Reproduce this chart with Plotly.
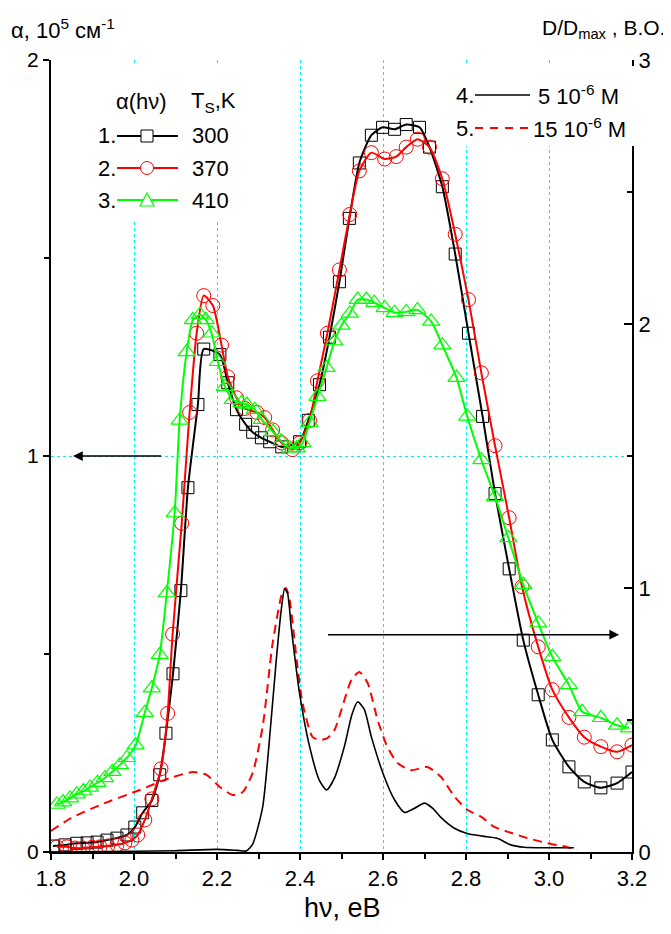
import plotly.graph_objects as go

# ---------------- data ----------------
# curve 1: alpha(hv), Ts = 300 K (black, squares)
e1 = [1.805, 1.834, 1.862, 1.887, 1.911, 1.935, 1.959, 1.983, 2.002, 2.021, 2.043, 2.062, 2.077, 2.094,
      2.113, 2.13, 2.154, 2.168, 2.207, 2.226, 2.247, 2.269, 2.286, 2.307, 2.327, 2.356, 2.399, 2.42,
      2.447, 2.471, 2.495, 2.519, 2.543, 2.572, 2.599, 2.628, 2.656, 2.688, 2.712, 2.743, 2.774, 2.806,
      2.84, 2.87, 2.904, 2.938, 2.974, 3.008, 3.048, 3.085, 3.125, 3.164, 3.2]
a1 = [0.015, 0.018, 0.022, 0.023, 0.025, 0.030, 0.035, 0.043, 0.063, 0.099, 0.13, 0.195, 0.30, 0.45,
      0.66, 0.92, 1.13, 1.27, 1.256, 1.185, 1.117, 1.08, 1.06, 1.046, 1.036, 1.023, 1.036, 1.09,
      1.18, 1.30, 1.44, 1.60, 1.74, 1.81, 1.83, 1.825, 1.837, 1.83, 1.78, 1.68, 1.51, 1.31,
      1.10, 0.905, 0.715, 0.535, 0.397, 0.283, 0.215, 0.177, 0.162, 0.174, 0.202]

# curve 2: Ts = 370 K (red, circles)
e2 = [1.814, 1.838, 1.858, 1.877, 1.899, 1.918, 1.937, 1.959, 1.978, 1.995, 2.009, 2.026, 2.043, 2.065,
      2.081, 2.093, 2.115, 2.134, 2.151, 2.168, 2.19, 2.211, 2.226, 2.247, 2.267, 2.296, 2.315, 2.334,
      2.356, 2.382, 2.399, 2.423, 2.442, 2.466, 2.495, 2.52, 2.543, 2.572, 2.604, 2.632, 2.656, 2.683,
      2.712, 2.743, 2.774, 2.806, 2.837, 2.87, 2.904, 2.935, 2.974, 3.008, 3.048, 3.085, 3.125, 3.164, 3.2]
a2 = [0.013, 0.013, 0.010, 0.010, 0.012, 0.013, 0.015, 0.018, 0.023, 0.030, 0.043, 0.081, 0.134, 0.21,
      0.35, 0.55, 0.83, 1.11, 1.31, 1.405, 1.38, 1.28, 1.20, 1.147, 1.12, 1.11, 1.097, 1.066,
      1.033, 1.016, 1.033, 1.09, 1.19, 1.31, 1.47, 1.61, 1.72, 1.766, 1.75, 1.756, 1.78, 1.80,
      1.78, 1.70, 1.56, 1.395, 1.21, 1.026, 0.844, 0.67, 0.518, 0.41, 0.34, 0.29, 0.266, 0.253, 0.27]

# curve 3: Ts = 410 K (green, triangles)
e3 = [1.814, 1.829, 1.846, 1.862, 1.878, 1.894, 1.912, 1.930, 1.948, 1.966, 1.983, 2.004, 2.026, 2.043,
      2.062, 2.079, 2.098, 2.11, 2.127, 2.142, 2.159, 2.173, 2.187, 2.202, 2.219, 2.238, 2.259, 2.272,
      2.291, 2.308, 2.335, 2.356, 2.375, 2.392, 2.406, 2.423, 2.442, 2.464, 2.483, 2.50, 2.52, 2.539,
      2.56, 2.579, 2.604, 2.628, 2.656, 2.683, 2.716, 2.743, 2.777, 2.803, 2.837, 2.87, 2.902, 2.938,
      2.974, 3.008, 3.048, 3.08, 3.125, 3.164, 3.193]
a3 = [0.12, 0.126, 0.136, 0.146, 0.154, 0.163, 0.175, 0.187, 0.203, 0.220, 0.238, 0.27, 0.352, 0.414,
      0.498, 0.654, 0.856, 1.09, 1.263, 1.344, 1.357, 1.344, 1.31, 1.238, 1.175, 1.142, 1.134, 1.13,
      1.117, 1.092, 1.061, 1.036, 1.02, 1.02, 1.033, 1.084, 1.15, 1.223, 1.29, 1.33, 1.36, 1.395,
      1.395, 1.387, 1.374, 1.362, 1.364, 1.369, 1.34, 1.28, 1.198, 1.10, 0.99, 0.897, 0.793, 0.675,
      0.578, 0.493, 0.422, 0.354, 0.339, 0.32, 0.313]

# curve 4: D/Dmax, 5e-6 M (black solid, right axis)
e4 = [1.80, 2.0, 2.1, 2.2, 2.25, 2.271, 2.286, 2.31, 2.331, 2.343, 2.355, 2.363, 2.37, 2.379, 2.399,
      2.423, 2.447, 2.464, 2.483, 2.507, 2.525, 2.539, 2.555, 2.572, 2.603, 2.628, 2.652, 2.675, 2.70,
      2.72, 2.74, 2.772, 2.803, 2.84, 2.875, 2.908, 2.94, 3.0, 3.06]
d4 = [0.0, 0.003, 0.005, 0.01, 0.006, 0.004, 0.03, 0.17, 0.51, 0.73, 0.92, 0.997, 0.98, 0.85, 0.60,
      0.40, 0.27, 0.235, 0.28, 0.40, 0.52, 0.569, 0.54, 0.436, 0.285, 0.197, 0.15, 0.165, 0.185,
      0.165, 0.13, 0.09, 0.07, 0.06, 0.052, 0.027, 0.018, 0.016, 0.016]

# curve 5: D/Dmax, 15e-6 M (red dashed, right axis)
e5 = [1.80, 1.85, 1.918, 2.014, 2.086, 2.142, 2.175, 2.207, 2.238, 2.262, 2.286, 2.31, 2.334, 2.358,
      2.366, 2.375, 2.392, 2.406, 2.43, 2.447, 2.465, 2.483, 2.524, 2.543, 2.563, 2.587, 2.61, 2.635,
      2.668, 2.707, 2.74, 2.772, 2.803, 2.837, 2.868, 2.91, 2.947, 2.995, 3.043, 3.068]
d5 = [0.08, 0.13, 0.178, 0.235, 0.28, 0.303, 0.292, 0.246, 0.216, 0.227, 0.30, 0.474, 0.79, 0.986,
      1.0, 0.955, 0.728, 0.565, 0.436, 0.425, 0.43, 0.462, 0.652, 0.682, 0.64, 0.50, 0.40, 0.337,
      0.31, 0.322, 0.284, 0.21, 0.16, 0.133, 0.095, 0.072, 0.053, 0.034, 0.019, 0.008]

legend_left_nums = ["1.", "2.", "3."]
legend_left_temps = ["300", "370", "410"]
legend_right_nums = ["4.", "5."]
legend_right_conc = ["5 10<sup>-6</sup> M", "15 10<sup>-6</sup> M"]

# arrows (data coords): left arrow on alpha axis, right arrow on D axis
arrow_left = dict(head=(1.853, 1.0), tail=(2.069, 1.0))
arrow_right = dict(head=(3.169, 0.823), tail=(2.464, 0.823))

# ---------------- layout helpers ----------------
# page is rendered with an 8px body margin; the figure is sized to fit the window
OFF = 8
W, H = 671 - OFF, 934 - 2 * OFF
L, R, T, B = 51, 632, 60, 852          # plot area in page pixels
FONT = "Liberation Sans, Arial, sans-serif"
GRID = "#00f0f0"


def px(xp):
    return (xp - L) / (R - L)


def py(yp):
    return (B - yp) / (B - T)


fig = go.Figure()

fig.add_trace(go.Scatter(x=e5, y=d5, yaxis="y2", mode="lines",
                         line=dict(color="#ff0000", width=2, dash="9px,6px", shape="spline", smoothing=0.6),
                         showlegend=False))
fig.add_trace(go.Scatter(x=e4, y=d4, yaxis="y2", mode="lines",
                         line=dict(color="black", width=1.6, shape="spline", smoothing=0.6),
                         showlegend=False))
fig.add_trace(go.Scatter(x=e1, y=a1, mode="lines+markers",
                         line=dict(color="black", width=2, shape="spline", smoothing=0.6),
                         marker=dict(symbol="square-open", size=12, color="black", line=dict(width=1)),
                         showlegend=False))
fig.add_trace(go.Scatter(x=e2, y=a2, mode="lines+markers",
                         line=dict(color="#ff0000", width=2, shape="spline", smoothing=0.6),
                         marker=dict(symbol="circle-open", size=14, color="#ff0000", line=dict(width=1)),
                         showlegend=False))
fig.add_trace(go.Scatter(x=e3, y=a3, mode="lines+markers",
                         line=dict(color="#00ff00", width=2, shape="spline", smoothing=0.6),
                         marker=dict(symbol="triangle-up-open", size=15, color="#00ff00", line=dict(width=1.2)),
                         showlegend=False))

shapes = []
annotations = []

# white legend backgrounds (hide grid & right axis line)
shapes.append(dict(type="rect", xref="paper", yref="paper", layer="above",
                   x0=px(88), x1=px(252), y0=py(222), y1=py(64),
                   fillcolor="white", line=dict(width=0)))
shapes.append(dict(type="rect", xref="paper", yref="paper", layer="above",
                   x0=px(448), x1=px(640), y0=py(146), y1=py(66),
                   fillcolor="white", line=dict(width=0)))

# left legend
rows_y = [136, 168, 200]
colors = ["black", "#ff0000", "#00ff00"]
annotations.append(dict(xref="paper", yref="paper", x=px(141), y=py(102), text="α(hν)",
                        showarrow=False, xanchor="center", yanchor="middle",
                        font=dict(size=22, family=FONT, color="black")))
annotations.append(dict(xref="paper", yref="paper", x=px(189), y=py(102), text="T<sub>S</sub>,K",
                        showarrow=False, xanchor="left", yanchor="middle",
                        font=dict(size=22, family=FONT, color="black")))
for i, yy in enumerate(rows_y):
    annotations.append(dict(xref="paper", yref="paper", x=px(118), y=py(yy), text=legend_left_nums[i],
                            showarrow=False, xanchor="right", yanchor="middle",
                            font=dict(size=22, family=FONT, color="black")))
    annotations.append(dict(xref="paper", yref="paper", x=px(190), y=py(yy), text=legend_left_temps[i],
                            showarrow=False, xanchor="left", yanchor="middle",
                            font=dict(size=22, family=FONT, color="black")))
    shapes.append(dict(type="line", xref="paper", yref="paper", layer="above",
                       x0=px(117), x1=px(178), y0=py(yy), y1=py(yy),
                       line=dict(color=colors[i], width=2)))
# legend markers (drawn over a white fill so the line is hidden inside)
shapes.append(dict(type="rect", xref="paper", yref="paper", layer="above",
                   x0=px(141), x1=px(153), y0=py(142), y1=py(130),
                   fillcolor="white", line=dict(color="black", width=1)))
shapes.append(dict(type="circle", xref="paper", yref="paper", layer="above",
                   x0=px(140.5), x1=px(153.5), y0=py(174.5), y1=py(161.5),
                   fillcolor="white", line=dict(color="#ff0000", width=1)))
tri = "M {x0} {y0} L {x1} {y1} L {x2} {y2} Z".format(
    x0=px(140), y0=py(206), x1=px(154), y1=py(206), x2=px(147), y2=py(193))
shapes.append(dict(type="path", xref="paper", yref="paper", layer="above", path=tri,
                   fillcolor="white", line=dict(color="#00ff00", width=1.2)))

# right legend
rrows_y = [95, 128]
for i, yy in enumerate(rrows_y):
    annotations.append(dict(xref="paper", yref="paper", x=px(454), y=py(yy), text=legend_right_nums[i],
                            showarrow=False, xanchor="left", yanchor="middle",
                            font=dict(size=22, family=FONT, color="black")))
    annotations.append(dict(xref="paper", yref="paper", x=px(536 if i == 0 else 531), y=py(yy),
                            text=legend_right_conc[i],
                            showarrow=False, xanchor="left", yanchor="middle",
                            font=dict(size=22, family=FONT, color="black")))
shapes.append(dict(type="line", xref="paper", yref="paper", layer="above",
                   x0=px(475), x1=px(530), y0=py(95), y1=py(95),
                   line=dict(color="black", width=1.6)))
shapes.append(dict(type="line", xref="paper", yref="paper", layer="above",
                   x0=px(475), x1=px(531), y0=py(128), y1=py(128),
                   line=dict(color="#ff0000", width=2, dash="8px,7px")))

# axis titles
annotations.append(dict(xref="paper", yref="paper", x=px(9), y=py(29),
                        text="α, 10<sup>5</sup> см<sup>-1</sup>",
                        showarrow=False, xanchor="left", yanchor="middle",
                        font=dict(size=22, family=FONT, color="black")))
annotations.append(dict(xref="paper", yref="paper", x=px(667), y=py(29),
                        text="D/D<sub>max</sub> , B.O.",
                        showarrow=False, xanchor="right", yanchor="middle",
                        font=dict(size=21, family=FONT, color="black")))
annotations.append(dict(xref="paper", yref="paper", x=px(342), y=py(925),
                        text="hν, eB",
                        showarrow=False, xanchor="center", yanchor="bottom",
                        font=dict(size=27, family=FONT, color="black")))

# arrows
annotations.append(dict(x=arrow_left["head"][0], y=arrow_left["head"][1], xref="x", yref="y",
                        ax=arrow_left["tail"][0], ay=arrow_left["tail"][1], axref="x", ayref="y",
                        text="", showarrow=True, arrowhead=2, arrowsize=1.3, arrowwidth=1.5,
                        arrowcolor="black"))
annotations.append(dict(x=arrow_right["head"][0], y=arrow_right["head"][1], xref="x", yref="y2",
                        ax=arrow_right["tail"][0], ay=arrow_right["tail"][1], axref="x", ayref="y2",
                        text="", showarrow=True, arrowhead=2, arrowsize=1.3, arrowwidth=1.5,
                        arrowcolor="black"))

fig.update_layout(
    width=W, height=H, autosize=False,
    margin=dict(l=L - OFF, r=(W + OFF) - R, t=T - OFF, b=(H + OFF) - B, pad=0),
    plot_bgcolor="white", paper_bgcolor="white",
    font=dict(family=FONT, color="black", size=21),
    showlegend=False,
    xaxis=dict(range=[1.8, 3.2], tick0=1.8, dtick=0.2, tickformat=".1f",
               ticks="outside", ticklen=6, tickwidth=1.5, tickcolor="black",
               showline=True, linecolor="black", linewidth=2,
               showgrid=True, gridcolor=GRID, griddash="dot", gridwidth=1,
               zeroline=False, tickfont=dict(size=22),
               minor=dict(dtick=0.1, ticks="outside", ticklen=5, tickwidth=1.5,
                          tickcolor="black", showgrid=False)),
    yaxis=dict(range=[0, 2], tick0=0, dtick=1,
               ticks="outside", ticklen=6, tickwidth=1.5, tickcolor="black",
               showline=True, linecolor="black", linewidth=2,
               showgrid=True, gridcolor=GRID, griddash="dot", gridwidth=1,
               zeroline=False, tickfont=dict(size=21),
               minor=dict(dtick=0.5, ticks="outside", ticklen=5, tickwidth=1.5,
                          tickcolor="black", showgrid=False)),
    yaxis2=dict(range=[0, 3], tick0=0, dtick=1, overlaying="y", side="right",
                ticks="inside", ticklen=8, tickwidth=1.5, tickcolor="black",
                showline=True, linecolor="black", linewidth=2,
                showgrid=False, zeroline=False, tickfont=dict(size=22),
                minor=dict(dtick=0.5, ticks="inside", ticklen=5, tickwidth=1.5,
                           tickcolor="black", showgrid=False)),
    shapes=shapes,
    annotations=annotations,
)

fig.write_html("out.html")
